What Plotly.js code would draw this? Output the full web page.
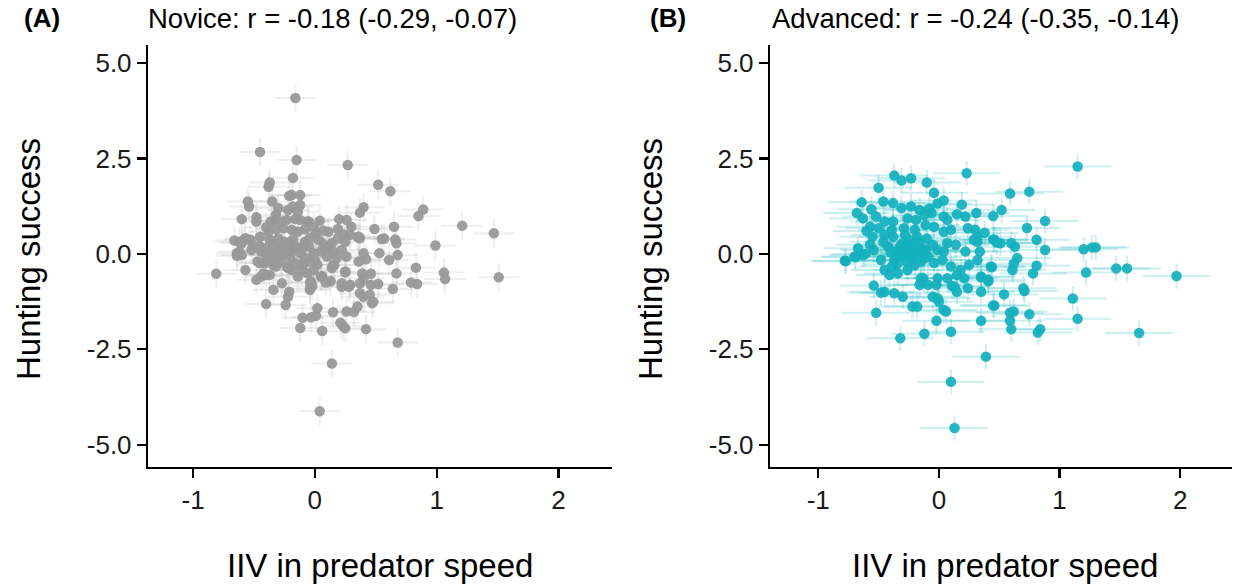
<!DOCTYPE html>
<html>
<head>
<meta charset="utf-8">
<script src="https://cdn.plot.ly/plotly-3.0.1.min.js"></script>
<style>html,body{margin:0;padding:0;background:#fff;}#chart{width:1238px;height:588px;}</style>
</head>
<body>
<div id="chart"></div>
<script>
// ---- Panel A: Novice ----
const noviceX = [
-0.16,-0.45,-0.15,0.27,-0.18,-0.37,-0.38,0.52,0.62,-0.55,
-0.54,-0.35,-0.21,-0.12,-0.19,-0.30,-0.32,-0.18,-0.12,-0.14,
-0.22,0.40,0.37,0.89,0.85,-0.60,-0.48,-0.48,1.21,1.47,
0.65,0.49,0.20,0.26,0.30,0.04,-0.06,-0.12,0.57,0.66,
0.67,0.99,0.36,0.37,0.40,0.53,0.68,-0.66,-0.62,-0.57,
-0.51,-0.53,-0.64,-0.60,-0.33,-0.36,-0.27,-0.23,-0.16,-0.05,
-0.40,-0.38,-0.32,-0.26,-0.19,-0.14,-0.08,-0.01,0.01,0.07,
0.11,0.19,0.24,0.29,-0.58,-0.45,-0.37,-0.30,-0.25,-0.18,
-0.08,-0.04,0.03,0.07,0.14,0.19,0.25,0.35,-0.44,-0.40,
-0.36,-0.37,-0.33,-0.41,-0.34,-0.32,-0.52,-0.47,-0.26,-0.19,
-0.12,-0.08,-0.01,0.00,0.05,0.10,0.15,0.18,0.22,0.15,
0.14,0.25,0.22,0.29,-0.81,-0.57,-0.48,-0.44,-0.40,-0.22,
-0.14,-0.11,-0.19,-0.03,-0.04,0.05,-0.01,-0.34,-0.27,-0.21,
-0.22,-0.40,-0.24,-0.10,-0.03,0.01,0.02,-0.12,0.06,0.15,
0.21,0.25,0.23,0.26,0.32,0.35,0.42,0.68,0.14,0.04,
-0.04,-0.02,-0.04,0.06,-0.06,0.13,0.09,0.22,0.28,0.25,
0.37,0.40,0.39,0.37,0.40,0.45,0.48,0.47,0.46,0.46,
0.52,0.64,0.67,0.79,0.84,0.83,1.06,1.07,1.51,0.61,
0.36,0.42,0.16,-0.23,-0.21,-0.42,-0.37,-0.45,-0.64,-0.60,
-0.62,0.26,0.55,
-0.30,-0.28,-0.25,-0.22,-0.20,-0.15,-0.10,-0.05,-0.35,-0.30,
-0.28,-0.20,-0.15,-0.10,-0.05,0.02,0.08,0.12,-0.40,-0.45
];
const noviceY = [
4.08,2.67,2.46,2.33,1.99,1.87,1.76,1.81,1.64,1.37,
1.24,1.37,1.52,1.54,1.54,1.20,1.02,1.24,1.28,1.11,
1.15,1.22,1.08,1.16,0.99,0.91,0.96,0.85,0.74,0.54,
0.71,0.65,0.91,0.89,0.71,0.87,0.85,0.89,0.40,0.38,
0.28,0.22,0.45,0.41,0.02,0.02,-0.03,0.35,0.31,0.41,
0.24,0.37,0.02,-0.03,0.89,0.85,0.85,0.89,0.91,0.85,
0.70,0.58,0.65,0.67,0.63,0.58,0.65,0.70,0.54,0.61,
0.58,0.65,0.50,0.50,0.38,0.45,0.37,0.41,0.32,0.37,
0.32,0.41,0.37,0.26,0.28,0.41,0.32,0.44,0.06,-0.03,
0.02,-0.16,-0.11,-0.24,-0.29,-0.33,0.10,-0.20,-0.03,0.06,
0.02,-0.11,0.02,-0.16,0.06,-0.07,0.06,-0.11,0.10,-0.29,
-0.37,-0.46,-0.77,-0.81,-0.52,-0.42,-0.68,-0.59,-0.55,-0.37,
-0.59,-0.42,-0.42,-0.72,-0.90,-0.59,-0.42,-0.94,-0.77,-0.99,
-1.12,-1.31,-1.34,-1.67,-1.66,-1.62,-1.42,-1.94,-2.02,-1.53,
-1.80,-1.95,-1.88,-1.51,-1.52,-1.38,-1.97,-2.32,-2.87,-4.12,
-0.94,-0.84,-0.75,-0.58,-0.51,-0.71,-0.75,-0.86,-0.86,-0.48,
-0.77,-0.64,-0.51,-1.03,-1.12,-1.07,-1.25,-1.29,-0.52,-0.81,
-0.79,-0.92,-0.51,-0.75,-0.79,-0.36,-0.49,-0.66,-0.61,-0.16,
-0.20,-0.14,-0.29,-0.33,-0.37,-0.51,-0.55,-0.24,-0.05,0.28,
0.06,-0.07,0.39,
0.15,0.05,0.20,0.10,0.25,0.18,0.15,0.20,0.25,-0.05,
-0.20,-0.10,-0.25,-0.30,-0.20,-0.28,0.15,0.20,0.15,0.20
];
// ---- Panel B: Advanced ----
const advancedX = [
1.15,0.23,-0.37,-0.31,-0.23,-0.10,-0.50,-0.04,0.59,0.75,
0.04,0.19,0.52,0.45,0.88,0.73,0.45,0.48,0.60,0.63,
0.81,0.88,1.20,1.27,1.30,0.65,0.62,0.61,0.44,0.81,
0.78,1.22,1.47,1.56,1.97,0.70,0.71,0.54,0.45,1.11,
1.15,0.59,0.62,0.59,0.60,0.75,0.84,0.82,1.66,0.39,
0.10,0.13,-0.77,-0.52,-0.32,-0.12,0.10,-0.02,0.35,0.35,
0.35,0.41,0.46,-0.64,-0.56,-0.46,-0.38,-0.31,-0.23,-0.16,
-0.08,-0.01,-0.68,-0.63,-0.52,-0.45,-0.38,-0.26,-0.19,-0.12,
-0.06,0.04,0.07,0.15,0.22,0.31,-0.57,-0.50,-0.39,-0.29,
-0.20,-0.11,-0.04,0.04,0.10,0.24,0.30,-0.67,-0.70,-0.63,
-0.57,-0.54,-0.46,-0.42,-0.34,-0.30,-0.26,-0.22,-0.16,-0.11,
-0.05,-0.01,0.04,0.07,0.14,0.22,0.29,0.32,0.34,0.46,
0.51,-0.78,-0.48,-0.37,-0.31,-0.23,-0.15,-0.09,-0.04,0.03,
0.10,0.18,0.25,0.32,0.43,-0.45,-0.41,-0.34,-0.26,-0.15,
-0.01,0.07,0.15,0.21,0.35,0.41,-0.54,-0.48,-0.45,-0.37,
-0.30,-0.16,-0.09,-0.02,0.13,0.15,0.24,-0.22,-0.18,-0.05,
0.00,0.04,0.06,-0.40,-0.35,-0.30,-0.28,-0.25,-0.22,-0.20,
-0.18,-0.27,-0.32,-0.24,-0.15,-0.12,-0.35,-0.20,-0.38,-0.28,
-0.18,-0.10,-0.45,-0.55,-0.60,0.32,0.38,
-0.69,-0.61,-0.39,-0.13,0.11,-0.01
];
const advancedY = [
2.29,2.11,2.05,1.92,1.98,1.87,1.73,1.60,1.58,1.63,
1.40,1.29,1.15,0.99,0.86,0.68,0.38,0.30,0.28,0.19,
0.37,0.10,0.12,0.17,0.17,-0.11,-0.26,-0.42,-0.35,-0.31,
-0.51,-0.49,-0.38,-0.38,-0.58,-0.90,-0.97,-1.06,-1.35,-1.17,
-1.70,-1.54,-1.51,-1.75,-1.97,-1.58,-1.97,-2.06,-2.07,-2.69,
-3.35,-4.56,-0.19,-1.54,-2.21,-2.09,-2.04,-1.75,-1.75,-0.99,
-0.61,-0.72,-1.35,1.35,1.17,1.37,1.33,1.20,1.24,1.15,
1.19,1.32,1.07,0.93,0.98,0.85,0.85,0.93,0.89,1.02,
1.07,0.98,0.89,1.04,0.98,1.07,0.71,0.67,0.63,0.67,
0.63,0.76,0.71,0.58,0.63,0.67,0.63,0.15,-0.07,-0.03,
0.24,0.10,0.32,0.19,0.10,0.28,0.24,0.10,0.32,0.10,
0.24,0.10,0.06,0.28,0.24,0.06,0.37,0.32,0.06,0.37,
0.28,-0.18,-0.16,-0.16,-0.07,-0.16,-0.20,-0.07,-0.24,-0.16,
-0.33,-0.42,-0.29,-0.16,-0.33,-0.42,-0.55,-0.51,-0.42,-0.64,
-0.64,-0.64,-0.55,-0.64,-0.59,-0.68,-0.83,-1.01,-0.99,-1.03,
-1.12,-0.81,-0.81,-0.81,-0.86,-0.99,-0.90,-1.38,-1.38,-1.12,
-1.25,-1.47,-1.51,0.05,0.00,-0.05,0.15,0.05,-0.05,0.18,
0.00,-0.20,0.20,0.35,0.12,-0.10,-0.28,-0.30,0.45,0.50,
0.45,0.40,0.50,0.45,0.60,0.45,0.55,
-0.09,0.00,-0.33,-0.64,-0.84,-1.16
];
const xTickVals = [-1, 0, 1, 2];
const xTickText = ['-1', '0', '1', '2'];
const yTickVals = [-5, -2.5, 0, 2.5, 5];
const yTickText = ['-5.0', '-2.5', '0.0', '2.5', '5.0'];
const panelLabels = ['(A)', '(B)'];
const panelTitles = ['Novice: r = -0.18 (-0.29, -0.07)', 'Advanced: r = -0.24 (-0.35, -0.14)'];
const xTitle = 'IIV in predator speed';
const yTitle = 'Hunting success';

const FONT = 'Liberation Sans, Arial, sans-serif';
const W = 1238, H = 588;

const traces = [
  {
    x: noviceX, y: noviceY, type: 'scatter', mode: 'markers', xaxis: 'x', yaxis: 'y',
    marker: {size: 10.5, color: '#999999', opacity: 0.95},
    error_x: {type: 'constant', value: 0.17, color: 'rgba(175,175,175,0.2)', thickness: 2, width: 0},
    error_y: {type: 'constant', value: 0.38, color: 'rgba(175,175,175,0.2)', thickness: 2, width: 0},
    hoverinfo: 'x+y', showlegend: false
  },
  {
    x: advancedX, y: advancedY, type: 'scatter', mode: 'markers', xaxis: 'x2', yaxis: 'y2',
    marker: {size: 10.5, color: '#14b0be', opacity: 0.92},
    error_x: {type: 'constant', value: 0.28, color: 'rgba(0,175,187,0.2)', thickness: 2, width: 0},
    error_y: {type: 'constant', value: 0.33, color: 'rgba(0,175,187,0.2)', thickness: 2, width: 0},
    hoverinfo: 'x+y', showlegend: false
  }
];

function xAxis(domain, range, anchor) {
  return {
    domain: domain, range: range, anchor: anchor,
    showgrid: false, zeroline: false, showline: true, linecolor: '#000', linewidth: 2.2,
    ticks: 'outside', ticklen: 9, tickwidth: 2.2, tickcolor: '#000',
    tickvals: xTickVals, ticktext: xTickText,
    tickfont: {family: FONT, size: 26, color: '#1a1a1a'}, fixedrange: true
  };
}
function yAxis(domain, range, anchor) {
  return {
    domain: domain, range: range, anchor: anchor,
    showgrid: false, zeroline: false, showline: true, linecolor: '#000', linewidth: 2.2,
    ticks: 'outside', ticklen: 9, tickwidth: 2.2, tickcolor: '#000',
    tickvals: yTickVals, ticktext: yTickText,
    tickfont: {family: FONT, size: 26, color: '#1a1a1a'}, fixedrange: true
  };
}

const yDom = [(H - 467) / H, (H - 45) / H];
const layout = {
  width: W, height: H,
  margin: {l: 0, r: 0, t: 0, b: 0},
  paper_bgcolor: '#fff', plot_bgcolor: '#fff',
  font: {family: FONT, color: '#000'},
  xaxis: xAxis([148 / W, 612 / W], [-1.37, 2.44], 'y'),
  yaxis: yAxis(yDom, [-5.58, 5.47], 'x'),
  xaxis2: xAxis([770 / W, 1232 / W], [-1.40, 2.43], 'y2'),
  yaxis2: yAxis(yDom, [-5.58, 5.47], 'x2'),
  annotations: [
    {text: '<b>' + panelLabels[0] + '</b>', x: 22 / W, y: 1 - 18 / H, xref: 'paper', yref: 'paper', xanchor: 'left', yanchor: 'middle', showarrow: false, font: {family: FONT, size: 26, color: '#000'}},
    {text: panelTitles[0], x: 146 / W, y: 1 - 18 / H, xref: 'paper', yref: 'paper', xanchor: 'left', yanchor: 'middle', showarrow: false, font: {family: FONT, size: 27.5, color: '#000'}},
    {text: '<b>' + panelLabels[1] + '</b>', x: 648 / W, y: 1 - 18 / H, xref: 'paper', yref: 'paper', xanchor: 'left', yanchor: 'middle', showarrow: false, font: {family: FONT, size: 26, color: '#000'}},
    {text: panelTitles[1], x: 770 / W, y: 1 - 18 / H, xref: 'paper', yref: 'paper', xanchor: 'left', yanchor: 'middle', showarrow: false, font: {family: FONT, size: 27.5, color: '#000'}},
    {text: yTitle, textangle: -90, x: 28 / W, y: 1 - 259 / H, xref: 'paper', yref: 'paper', xanchor: 'center', yanchor: 'middle', showarrow: false, font: {family: FONT, size: 33, color: '#000'}},
    {text: yTitle, textangle: -90, x: 650 / W, y: 1 - 259 / H, xref: 'paper', yref: 'paper', xanchor: 'center', yanchor: 'middle', showarrow: false, font: {family: FONT, size: 33, color: '#000'}},
    {text: xTitle, x: 380 / W, y: 1 - 565 / H, xref: 'paper', yref: 'paper', xanchor: 'center', yanchor: 'middle', showarrow: false, font: {family: FONT, size: 33, color: '#000'}},
    {text: xTitle, x: 1005 / W, y: 1 - 565 / H, xref: 'paper', yref: 'paper', xanchor: 'center', yanchor: 'middle', showarrow: false, font: {family: FONT, size: 33, color: '#000'}}
  ]
};

Plotly.newPlot('chart', traces, layout, {displayModeBar: false, staticPlot: true});
</script>
</body>
</html>
